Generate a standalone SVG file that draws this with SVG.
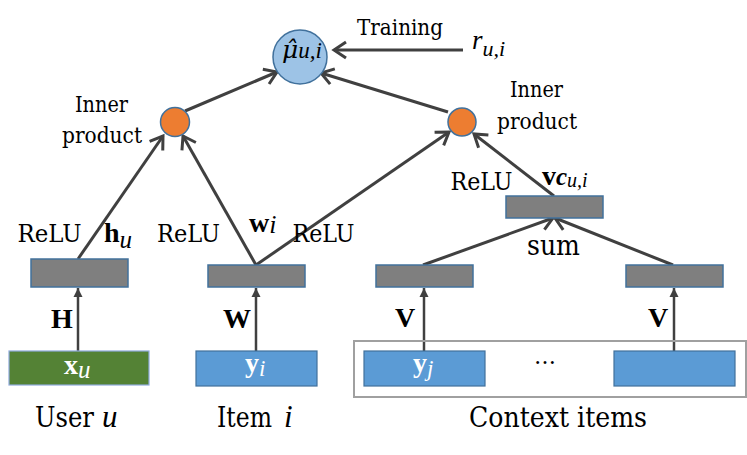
<svg xmlns="http://www.w3.org/2000/svg" width="747" height="455" viewBox="0 0 747 455">
<defs>
<style>
.r{font-family:"DejaVu Serif","Noto Serif",serif;fill:#000}
.m{font-family:"Liberation Serif","DejaVu Serif",serif;font-style:italic}
.b{font-family:"Liberation Serif","DejaVu Serif",serif;font-weight:bold}
.c{fill:none;stroke:#404040;stroke-width:3}
.v{fill:none;stroke:#404040;stroke-width:2.5}
.g{fill:#7F7F7F;stroke:#41719C;stroke-width:1.5}
.bl{fill:#5B9BD5;stroke:#41719C;stroke-width:1.2}
.w{fill:#fff}
</style>
<marker id="chev" viewBox="-16 -10 20 20" markerWidth="20" markerHeight="20" refX="0" refY="0" orient="auto" markerUnits="userSpaceOnUse">
<path d="M-12,-8 L0,0 L-12,8" fill="none" stroke="#404040" stroke-width="3"/>
</marker>
<marker id="tri" viewBox="-10 -6 12 12" markerWidth="12" markerHeight="12" refX="0" refY="0" orient="auto" markerUnits="userSpaceOnUse">
<path d="M-9,-4.5 L0,0 L-9,4.5 Z" fill="#404040"/>
</marker>
</defs>
<rect width="747" height="455" fill="#fff"/>

<g id="connectors">
<line class="c" x1="78" y1="259" x2="163" y2="136" marker-end="url(#chev)"/>
<line class="c" x1="256" y1="265" x2="183" y2="136" marker-end="url(#chev)"/>
<line class="c" x1="256" y1="265" x2="449" y2="132" marker-end="url(#chev)"/>
<line class="c" x1="554" y1="196" x2="474" y2="134" marker-end="url(#chev)"/>
<line class="c" x1="423" y1="265" x2="553" y2="218" marker-end="url(#chev)"/>
<line class="c" x1="673" y1="265" x2="555" y2="218" marker-end="url(#chev)"/>
<line class="c" x1="185" y1="111" x2="277" y2="72" marker-end="url(#chev)"/>
<line class="c" x1="448" y1="112" x2="321" y2="73" marker-end="url(#chev)"/>
<line class="c" x1="463" y1="50" x2="334" y2="50" marker-end="url(#chev)"/>
<line class="v" x1="78" y1="351" x2="78" y2="288" marker-end="url(#tri)"/>
<line class="v" x1="256" y1="351" x2="256" y2="288" marker-end="url(#tri)"/>
<line class="v" x1="424" y1="351" x2="424" y2="288" marker-end="url(#tri)"/>
<line class="v" x1="674" y1="351" x2="674" y2="288" marker-end="url(#tri)"/>
</g>

<g id="mu">
<circle cx="300" cy="57" r="27" fill="#9DC3E6" stroke="#41719C" stroke-width="1.5"/>
<text x="282" y="58" font-size="25" font-family="'DejaVu Serif', serif" font-style="italic">μ̂<tspan font-family="'Liberation Serif', serif" font-size="23">u,i</tspan></text>
</g>
<g id="training-label"><text class="r" x="400" y="35" font-size="23" text-anchor="middle" textLength="86" lengthAdjust="spacingAndGlyphs">Training</text></g>
<g id="rating"><text class="m" x="472" y="49" font-size="27">r<tspan font-size="22" dy="7">u,i</tspan></text></g>

<g id="ip-left">
<circle cx="175" cy="122" r="14.5" fill="#ED7D31" stroke="#41719C" stroke-width="1.5"/>
<text class="r" x="101.5" y="112" font-size="23" text-anchor="middle" textLength="53" lengthAdjust="spacingAndGlyphs">Inner</text>
<text class="r" x="102" y="143" font-size="23" text-anchor="middle" textLength="80" lengthAdjust="spacingAndGlyphs">product</text>
</g>
<g id="ip-right">
<circle cx="462" cy="122" r="14" fill="#ED7D31" stroke="#41719C" stroke-width="1.5"/>
<text class="r" x="536.5" y="97" font-size="23" text-anchor="middle" textLength="53" lengthAdjust="spacingAndGlyphs">Inner</text>
<text class="r" x="537" y="129" font-size="23" text-anchor="middle" textLength="80" lengthAdjust="spacingAndGlyphs">product</text>
</g>

<g id="user-hidden">
<rect class="g" x="31" y="259" width="97" height="28"/>
<text class="r" x="49.5" y="242" font-size="23.5" text-anchor="middle" textLength="64" lengthAdjust="spacingAndGlyphs">ReLU</text>
<text class="b" x="104" y="242" font-size="28">h<tspan class="m" font-weight="normal" font-size="25" dy="6">u</tspan></text>
</g>
<g id="item-hidden">
<rect class="g" x="208" y="265" width="97" height="22"/>
<text class="r" x="188.5" y="242" font-size="23.5" text-anchor="middle" textLength="63" lengthAdjust="spacingAndGlyphs">ReLU</text>
<text class="r" x="323.5" y="242" font-size="23.5" text-anchor="middle" textLength="62" lengthAdjust="spacingAndGlyphs">ReLU</text>
<text class="b" x="249" y="232" font-size="28">w<tspan class="m" font-weight="normal" font-size="26" dy="1">i</tspan></text>
</g>
<g id="ctx-hidden-1"><rect class="g" x="376" y="265" width="97" height="22"/></g>
<g id="ctx-hidden-2"><rect class="g" x="626" y="265" width="97" height="22"/></g>
<g id="sum-node">
<rect class="g" x="506" y="196" width="97" height="22"/>
<text class="r" x="481.5" y="190" font-size="23.5" text-anchor="middle" textLength="62" lengthAdjust="spacingAndGlyphs">ReLU</text>
<text class="b" x="542" y="185" font-size="28">v<tspan font-style="italic" font-size="25">c</tspan><tspan class="m" font-weight="normal" font-size="20" dy="2">u,i</tspan></text>
<text class="r" x="553.5" y="255" font-size="27" text-anchor="middle" textLength="53" lengthAdjust="spacingAndGlyphs">sum</text>
</g>

<g id="labels-weights">
<text class="b" x="62" y="328" font-size="28" text-anchor="middle">H</text>
<text class="b" x="237" y="328" font-size="28" text-anchor="middle">W</text>
<text class="b" x="405" y="327" font-size="28" text-anchor="middle">V</text>
<text class="b" x="658" y="327" font-size="28" text-anchor="middle">V</text>
</g>

<g id="user">
<rect x="9" y="351" width="140" height="34" fill="#548235" stroke="#8FAADC" stroke-width="1.2"/>
<text class="b w" x="64" y="374" font-size="28">x<tspan class="m" font-weight="normal" font-size="25" dy="4">u</tspan></text>
<text class="r" x="35" y="427" font-size="27" textLength="59" lengthAdjust="spacingAndGlyphs">User</text>
<text class="m" x="102" y="427" font-size="31">u</text>
</g>
<g id="item">
<rect class="bl" x="196" y="351" width="121" height="35"/>
<text class="b w" x="245" y="372" font-size="28">y<tspan class="m" font-weight="normal" font-size="23" dy="4">i</tspan></text>
<text class="r" x="217" y="427" font-size="27" textLength="55" lengthAdjust="spacingAndGlyphs">Item</text>
<text class="m" x="284" y="427" font-size="31">i</text>
</g>
<g id="context">
<rect x="354" y="341" width="392" height="56" fill="none" stroke="#A0A0A0" stroke-width="2"/>
<rect class="bl" x="364" y="351" width="121" height="35"/>
<text class="b w" x="413" y="372" font-size="28">y<tspan class="m" font-weight="normal" font-size="23" dy="4">j</tspan></text>
<text class="r" x="545" y="364" font-size="22" text-anchor="middle">…</text>
<rect class="bl" x="614" y="351" width="121" height="35"/>
<text class="r" x="558" y="427" font-size="28" text-anchor="middle" textLength="178" lengthAdjust="spacingAndGlyphs">Context items</text>
</g>
</svg>
